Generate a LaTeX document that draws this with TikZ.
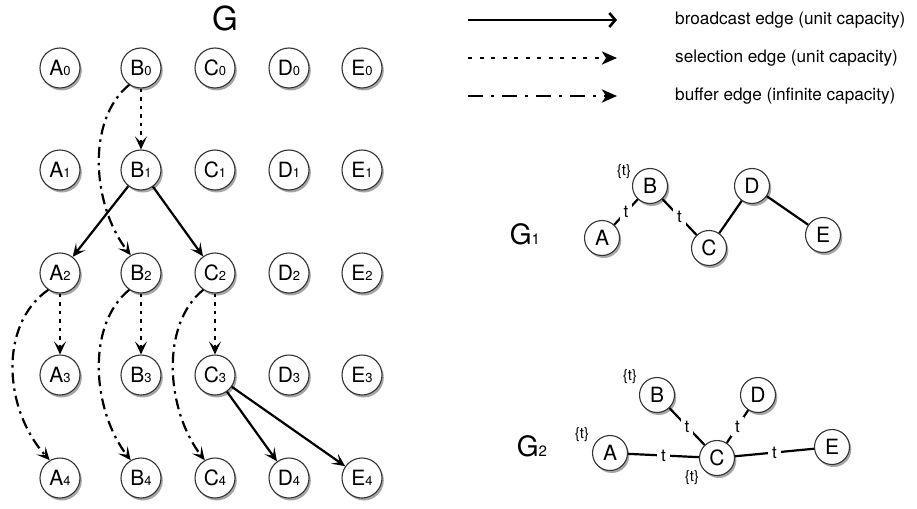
\documentclass[tikz,border=0pt]{standalone}
\usepackage{fontspec}
\setmainfont{TeX Gyre Heros}
\usetikzlibrary{arrows.meta,shadows}
\newcommand\nsub[2]{#1{\fontsize{13}{13}\selectfont #2}}
\begin{document}
\begin{tikzpicture}[x=1pt,y=-1pt,
 gnode/.style={circle,draw=black!80,line width=1.1pt,fill=white,minimum size=40pt,inner sep=0pt,
   drop shadow={shadow xshift=1.8pt,shadow yshift=-2.5pt,opacity=0.35,fill=black},font=\fontsize{21}{21}\selectfont},
 hnode/.style={gnode,minimum size=35pt},
 edge/.style={line width=2.2pt},
 tip/.style={-{Stealth[length=13pt,width=12pt,inset=6pt]}},
 bcast/.style={edge,tip},
 sel/.style={edge,tip,dash pattern=on 3.5pt off 5pt},
 buf/.style={edge,tip,dash pattern=on 11pt off 5pt on 2.5pt off 5pt},
 tlab/.style={fill=white,inner sep=4pt,font=\fontsize{17}{17}\selectfont},
 setlab/.style={inner sep=0pt,font=\fontsize{15}{15}\selectfont},
 leg/.style={anchor=west,inner sep=0pt,font=\fontsize{17.2}{17.2}\selectfont},
 legline/.style={line width=2.6pt},
 legtip/.style={-{Stealth[length=15pt,width=13pt,inset=4pt]}},
]
\useasboundingbox (0,0) rectangle (917,508);

% title
\node[font=\fontsize{33}{33}\selectfont] (title) at (225,18) {G};

% grid nodes
\foreach \L/\x in {A/60,B/141,C/215,D/289,E/362}
 \foreach \r/\y in {0/68,1/170,2/273,3/375,4/478}
  \node[gnode] (\L\r) at (\x,\y) {\nsub{\L}{\r}};

% selection edges
\draw[sel] (B0) -- (B1);
\draw[sel] (A2) -- (A3);
\draw[sel] (B2) -- (B3);
\draw[sel] (C2) -- (C3);

% broadcast edges
\draw[bcast] (B1) -- (A2);
\draw[bcast] (B1) -- (C2);
\draw[bcast] (C3) -- (D4);
\draw[bcast] (C3) -- (E4);

% buffer edges
\draw[buf] (B0.235) .. controls (86,120) and (92,205) .. (B2.120);
\draw[buf] (A2.235) .. controls (-2,325) and (4,410) .. (A4.120);
\draw[buf] (B2.235) .. controls (86,325) and (92,410) .. (B4.120);
\draw[buf] (C2.235) .. controls (160,325) and (166,410) .. (C4.120);

% legend
\coordinate (l1s) at (468,20); \coordinate (l1e) at (617,20);
\coordinate (l2s) at (468,58); \coordinate (l2e) at (617,58);
\coordinate (l3s) at (468,96); \coordinate (l3e) at (617,96);
\draw[legline,-{Straight Barb[length=6pt,width=14pt]}] (l1s) -- (l1e);
\draw[legline,legtip,dash pattern=on 4pt off 7.5pt] (l2s) -- (l2e);
\draw[legline,legtip,dash pattern=on 15pt off 8pt on 3pt off 8pt] (l3s) -- (l3e);
\node[leg] (lt1) at (675,20) {broadcast edge (unit capacity)};
\node[leg] (lt2) at (675,58) {selection edge (unit capacity)};
\node[leg] (lt3) at (675,96) {buffer edge (infinite capacity)};

% G1
\node[font=\fontsize{28}{28}\selectfont] (g1lab) at (525,234) {G{\fontsize{15}{15}\selectfont 1}};
\node[hnode] (a1) at (602,238) {A};
\node[hnode] (b1) at (650,186) {B};
\node[hnode] (c1) at (709,248) {C};
\node[hnode] (d1) at (752,186) {D};
\node[hnode] (e1) at (823,235) {E};
\draw[edge] (a1) -- node[tlab] (t11) {t} (b1);
\draw[edge] (b1) -- node[tlab] (t12) {t} (c1);
\draw[edge] (c1) -- (d1);
\draw[edge] (d1) -- (e1);
\node[setlab] (s1b) at (624,172) {\{t\}};

% G2
\node[font=\fontsize{28}{28}\selectfont] (g2lab) at (532,446) {G{\fontsize{15}{15}\selectfont 2}};
\node[hnode] (a2) at (610,453) {A};
\node[hnode] (b2) at (657,395) {B};
\node[hnode] (c2) at (717,458) {C};
\node[hnode] (d2) at (758,395) {D};
\node[hnode] (e2) at (832,447) {E};
\draw[edge] (a2) -- node[tlab] (t21) {t} (c2);
\draw[edge] (b2) -- node[tlab] (t22) {t} (c2);
\draw[edge] (d2) -- node[tlab] (t23) {t} (c2);
\draw[edge] (c2) -- node[tlab] (t24) {t} (e2);
\node[setlab] (s2b) at (630,377) {\{t\}};
\node[setlab] (s2a) at (582,435) {\{t\}};
\node[setlab] (s2c) at (692,478) {\{t\}};
\end{tikzpicture}
\end{document}
